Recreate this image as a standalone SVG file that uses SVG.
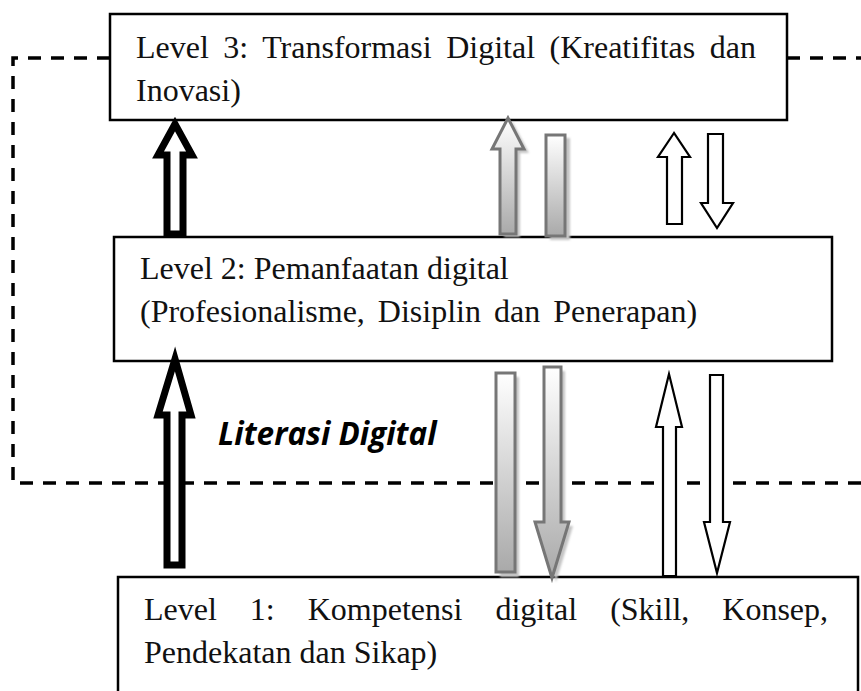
<svg xmlns="http://www.w3.org/2000/svg" width="861" height="691" viewBox="0 0 861 691">
  <defs>
    <style>
      .box { fill: #fff; stroke: #000; stroke-width: 2.5; }
      .lbl { font-family: "Liberation Serif", "Times New Roman", serif; font-size: 32px; fill: #111; }
      .dash { fill: none; stroke: #000; stroke-width: 3.5; stroke-dasharray: 13 10; }
      .bold-arrow { fill: #fff; stroke: #000; stroke-width: 7; stroke-linejoin: miter; stroke-miterlimit: 10; }
      .open-arrow { fill: #fff; stroke: #000; stroke-width: 2.2; stroke-linejoin: miter; stroke-miterlimit: 10; }
      .grey-arrow { fill: url(#greyFill); stroke: #767676; stroke-width: 3; stroke-linejoin: miter; stroke-miterlimit: 10; }
      .shadow { fill: #c4c4c4; stroke: none; filter: url(#soft); }
      .caption { font-family: "Open Sans", "Liberation Sans", sans-serif; font-weight: bold; font-style: italic; font-size: 31.5px; fill: #000; }
    </style>
    <linearGradient id="greyFill" x1="0" y1="0" x2="0" y2="1">
      <stop offset="0" stop-color="#ffffff"/>
      <stop offset="1" stop-color="#a9a9a9"/>
    </linearGradient>
    <filter id="soft" x="-50%" y="-10%" width="200%" height="120%">
      <feGaussianBlur stdDeviation="1"/>
    </filter>
  </defs>

  <!-- dashed boundary of the literacy zone -->
  <g id="connectors">
    <path class="dash" d="M110 58 H13 V483 H861"/>
    <path class="dash" d="M787 58 H861"/>
  </g>

  <!-- level boxes (first lines are justified to the box width) -->
  <g id="level3">
    <rect class="box" x="110" y="14" width="677" height="106"/>
    <text class="lbl" x="136" y="58" word-spacing="6.5">Level 3: Transformasi Digital (Kreatifitas dan</text>
    <text class="lbl" x="136" y="101">Inovasi)</text>
  </g>
  <g id="level2">
    <rect class="box" x="114" y="237" width="718" height="124"/>
    <text class="lbl" x="140" y="279">Level 2: Pemanfaatan digital</text>
    <text class="lbl" x="140" y="322" word-spacing="5">(Profesionalisme, Disiplin dan Penerapan)</text>
  </g>
  <g id="level1">
    <rect class="box" x="118" y="577" width="740" height="140"/>
    <text class="lbl" x="144" y="620" word-spacing="25">Level 1: Kompetensi digital (Skill, Konsep,</text>
    <text class="lbl" x="144" y="663">Pendekatan dan Sikap)</text>
  </g>

  <g id="literasi-label">
    <text class="caption" x="218" y="445">Literasi Digital</text>
  </g>

  <!-- arrows between levels -->
  <g id="arrows">
    <!-- bold black: level 1 to 2, level 2 to 3 -->
    <polygon class="bold-arrow" points="175,124 158,155 167,155 167,234 183,234 183,155 192,155"/>
    <polygon class="bold-arrow" points="175,359 158,415 167,415 167,565 182,565 182,415 191,415"/>

    <!-- grey shaded pair, upper -->
    <polygon class="shadow" points="512,121 529,153 520,153 520,237 504,237"/>
    <rect class="shadow" x="550" y="138" width="20" height="102"/>
    <polygon class="grey-arrow" points="508,118 492,149 500,149 500,234 516,234 516,149 524,149"/>
    <rect class="grey-arrow" x="546" y="135" width="19" height="101"/>

    <!-- grey shaded pair, lower -->
    <rect class="shadow" x="500" y="377" width="19" height="200"/>
    <polygon class="shadow" points="548,371 565,371 565,526 573,526 556,582 539,526 548,526"/>
    <rect class="grey-arrow" x="496" y="373" width="19" height="199"/>
    <polygon class="grey-arrow" points="544,367 561,367 561,522 569,522 552,578 535,522 544,522"/>

    <!-- open outline pair, upper -->
    <polygon class="open-arrow" points="674,133 658,157 667,157 667,224 682,224 682,157 690,157"/>
    <polygon class="open-arrow" points="708,134 723,134 723,203 733,203 717,228 701,203 708,203"/>

    <!-- open outline pair, lower -->
    <polygon class="open-arrow" points="669,374 656,427 663,427 663,576 676,576 676,427 682,427"/>
    <polygon class="open-arrow" points="710,375 723,375 723,522 730,522 717,573 704,522 710,522"/>
  </g>
</svg>
